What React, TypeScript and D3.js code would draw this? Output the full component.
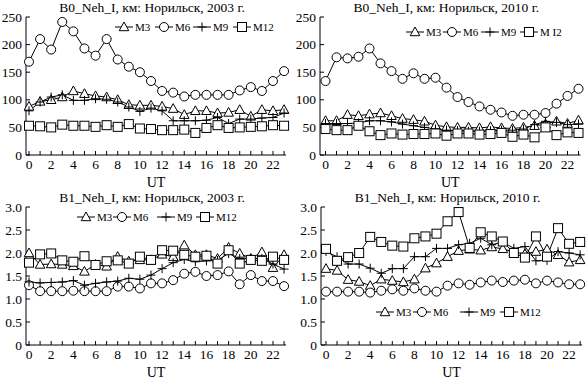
import React from "react";
import * as d3 from "d3";

const hours = d3.range(0, 24);
const xTicks = [0, 2, 4, 6, 8, 10, 12, 14, 16, 18, 20, 22];
const b0Ticks = [0, 50, 100, 150, 200, 250];
const b1Ticks = [0, 0.5, 1.0, 1.5, 2.0, 2.5, 3.0];
const seriesNames = ["M3", "M6", "M9", "M12"];

// B0, 2003
const b0_2003_M3 = [88, 97, 100, 105, 116, 111, 107, 105, 100, 91, 90, 90, 88, 84, 73, 80, 80, 76, 77, 82, 70, 82, 80, 82];
const b0_2003_M6 = [169, 210, 191, 241, 224, 193, 180, 210, 173, 160, 150, 134, 116, 113, 106, 109, 109, 109, 109, 117, 123, 116, 134, 152];
const b0_2003_M9 = [80, 96, 105, 109, 99, 99, 102, 101, 96, 87, 79, 85, 80, 62, 62, 62, 63, 68, 57, 65, 65, 67, 68, 76];
const b0_2003_M12 = [53, 52, 50, 55, 53, 53, 51, 54, 51, 56, 48, 47, 45, 45, 46, 40, 49, 54, 49, 50, 51, 52, 54, 53];

// B0, 2010
const b0_2010_M3 = [62, 62, 73, 71, 74, 76, 71, 66, 64, 61, 54, 51, 50, 50, 49, 51, 49, 48, 50, 53, 56, 61, 57, 63];
const b0_2010_M6 = [134, 177, 175, 178, 193, 166, 152, 138, 148, 138, 140, 122, 105, 96, 88, 82, 77, 71, 73, 73, 76, 93, 107, 120];
const b0_2010_M9 = [57, 57, 57, 58, 62, 62, 60, 56, 53, 50, 47, 45, 44, 43, 43, 44, 45, 45, 47, 55, 61, 59, 55, 56];
const b0_2010_M12 = [47, 45, 45, 53, 43, 36, 39, 37, 38, 38, 39, 35, 39, 39, 37, 38, 40, 33, 37, 32, 50, 36, 41, 40];

// B1, 2003
const b1_2003_M3 = [2.0, 1.75, 1.76, 1.75, 1.72, 1.6, 1.75, 1.71, 1.92, 1.82, 1.85, 1.85, 1.97, 1.92, 2.17, 1.96, 1.96, 1.88, 2.12, 1.99, 1.88, 2.02, 1.68, 1.96];
const b1_2003_M6 = [1.3, 1.17, 1.17, 1.17, 1.18, 1.17, 1.17, 1.17, 1.27, 1.27, 1.23, 1.34, 1.34, 1.41, 1.55, 1.59, 1.5, 1.52, 1.6, 1.32, 1.52, 1.39, 1.39, 1.28];
const b1_2003_M9 = [1.37, 1.35, 1.36, 1.37, 1.4, 1.3, 1.34, 1.37, 1.39, 1.45, 1.43, 1.52, 1.66, 1.79, 1.86, 1.81, 1.83, 1.84, 1.99, 1.88, 1.88, 1.88, 1.76, 1.65];
const b1_2003_M12 = [1.79, 1.97, 1.99, 1.84, 1.81, 1.93, 1.74, 1.82, 1.84, 1.77, 1.92, 1.85, 2.06, 2.05, 1.96, 1.92, 1.94, 1.77, 2.06, 1.77, 1.85, 1.83, 1.92, 1.85];

// B1, 2010
const b1_2010_M3 = [1.66, 1.62, 1.42, 1.38, 1.29, 1.43, 1.4, 1.37, 1.43, 1.67, 1.78, 1.92, 2.05, 2.08, 2.06, 2.13, 2.09, 2.02, 1.98, 2.03, 2.08, 1.96, 1.8, 1.85];
const b1_2010_M6 = [1.16, 1.16, 1.16, 1.16, 1.14, 1.18, 1.21, 1.18, 1.23, 1.18, 1.16, 1.29, 1.34, 1.31, 1.36, 1.4, 1.37, 1.4, 1.42, 1.34, 1.4, 1.36, 1.32, 1.32];
const b1_2010_M9 = [2.03, 1.92, 1.76, 1.76, 1.67, 1.56, 1.66, 1.66, 1.92, 1.92, 2.1, 2.1, 2.18, 2.21, 2.32, 2.18, 2.24, 2.1, 2.14, 1.83, 1.84, 2.03, 2.0, 1.96];
const b1_2010_M12 = [2.09, 1.83, 1.91, 2.0, 2.35, 2.24, 2.16, 2.14, 2.32, 2.36, 2.42, 2.69, 2.89, 2.11, 2.45, 2.36, 2.25, 2.0, 1.9, 2.36, 1.92, 2.54, 2.2, 2.24];

type Shape = "tri" | "circ" | "plus" | "sq";
const shapes: Shape[] = ["tri", "circ", "plus", "sq"];

function Marker({ shape, x, y }: { shape: Shape; x: number; y: number }) {
  const s = 4.5;
  if (shape === "circ") return <circle cx={x} cy={y} r={s} fill="#fff" stroke="#000" strokeWidth={1} />;
  if (shape === "sq") return <rect x={x - s} y={y - s} width={2 * s} height={2 * s} fill="#fff" stroke="#000" strokeWidth={1} />;
  if (shape === "tri")
    return (
      <path
        d={`M${x},${y - s - 0.5}L${x + s + 0.3},${y + s - 0.8}L${x - s - 0.3},${y + s - 0.8}Z`}
        fill="#fff"
        stroke="#000"
        strokeWidth={1}
      />
    );
  return <path d={`M${x - s},${y}H${x + s}M${x},${y - s}V${y + s}`} stroke="#000" strokeWidth={1} fill="none" />;
}

interface PanelProps {
  ox: number;
  oy: number;
  title: string;
  yTicks: number[];
  yMax: number;
  fmt: (v: number) => string;
  series: number[][];
  labels: string[];
  x0: number;
  xUnit: number;
  axisX: number;
  legendX: number[];
  legendY: number;
}

function Panel(p: PanelProps) {
  const top = 17;
  const bottom = 155;
  const x = d3.scaleLinear().domain([0, 22]).range([p.x0, p.x0 + 22 * p.xUnit]);
  const y = d3.scaleLinear().domain([0, p.yMax]).range([bottom, top]);
  const line = d3
    .line<number>()
    .x((_, i) => x(hours[i]))
    .y((d) => y(d));
  const xEnd = x(23) + 2;
  const font = "'Liberation Serif', 'Times New Roman', serif";
  return (
    <g transform={`translate(${p.ox},${p.oy})`} fontFamily={font} fill="#000">
      <text x={(p.axisX + xEnd) / 2 - 4} y={11.5} textAnchor="middle" fontSize={13.5}>
        {p.title}
      </text>
      <line x1={p.axisX} x2={p.axisX} y1={top} y2={bottom} stroke="#000" />
      <line x1={p.axisX} x2={xEnd} y1={bottom} y2={bottom} stroke="#000" />
      {p.yTicks.map((t) => (
        <g key={t}>
          <line x1={p.axisX} x2={p.axisX + 4} y1={y(t)} y2={y(t)} stroke="#000" />
          <text x={p.axisX - 4} y={y(t) + 4.5} textAnchor="end" fontSize={13.5}>
            {p.fmt(t)}
          </text>
        </g>
      ))}
      {hours.map((h) => (
        <line key={h} x1={x(h)} x2={x(h)} y1={bottom} y2={bottom - 4} stroke="#000" />
      ))}
      {xTicks.map((t) => (
        <text key={t} x={x(t)} y={bottom + 14} textAnchor="middle" fontSize={13.5}>
          {t}
        </text>
      ))}
      <text x={(p.axisX + xEnd) / 2} y={bottom + 32} textAnchor="middle" fontSize={14}>
        UT
      </text>
      {p.series.map((s, si) => (
        <path key={si} d={line(s) || ""} fill="none" stroke="#000" strokeWidth={1} />
      ))}
      {p.series.map((s, si) => (
        <g key={si}>
          {s.map((v, i) => (
            <Marker key={i} shape={shapes[si]} x={x(hours[i])} y={y(v)} />
          ))}
        </g>
      ))}
      {p.labels.map((lab, i) => {
        const lx = p.legendX[i];
        return (
          <g key={lab + i}>
            <line x1={lx} x2={lx + 18} y1={p.legendY} y2={p.legendY} stroke="#000" />
            <Marker shape={shapes[i]} x={lx + 9} y={p.legendY} />
            <text x={lx + 20} y={p.legendY + 3.5} fontSize={11}>
              {lab}
            </text>
          </g>
        );
      })}
    </g>
  );
}

export default function App() {
  const f0 = (v: number) => d3.format("d")(v);
  const f1 = (v: number) => (v === 0 ? "0" : d3.format(".1f")(v));
  return (
    <svg width={586} height={381} style={{ position: "absolute", left: 0, top: 0, background: "#fff" }}>
      <rect width={586} height={381} fill="#fff" />
      <Panel
        ox={0}
        oy={0}
        title="B0_Neh_I, км: Норильск, 2003 г."
        yTicks={b0Ticks}
        yMax={250}
        fmt={f0}
        series={[b0_2003_M3, b0_2003_M6, b0_2003_M9, b0_2003_M12]}
        labels={seriesNames}
        x0={29}
        xUnit={11.09}
        axisX={26}
        legendX={[115, 155, 193, 233]}
        legendY={27}
      />
      <Panel
        ox={293}
        oy={0}
        title="B0_Neh_I, км: Норильск, 2010 г."
        yTicks={b0Ticks}
        yMax={250}
        fmt={f0}
        series={[b0_2010_M3, b0_2010_M6, b0_2010_M9, b0_2010_M12]}
        labels={["M3", "M6", "M9", "M I2"]}
        x0={32.5}
        xUnit={11.0}
        axisX={27}
        legendX={[113, 150, 188, 227]}
        legendY={32}
      />
      <Panel
        ox={0}
        oy={190}
        title="B1_Neh_I, км: Норильск, 2003 г."
        yTicks={b1Ticks}
        yMax={3}
        fmt={f1}
        series={[b1_2003_M3, b1_2003_M6, b1_2003_M9, b1_2003_M12]}
        labels={seriesNames}
        x0={29}
        xUnit={11.09}
        axisX={26}
        legendX={[77, 113, 157, 196]}
        legendY={27}
      />
      <Panel
        ox={293}
        oy={190}
        title="B1_Neh_I, км: Норильск, 2010 г."
        yTicks={b1Ticks}
        yMax={3}
        fmt={f1}
        series={[b1_2010_M3, b1_2010_M6, b1_2010_M9, b1_2010_M12]}
        labels={seriesNames}
        x0={33}
        xUnit={11.05}
        axisX={28}
        legendX={[83, 120, 167, 207]}
        legendY={122}
      />
    </svg>
  );
}
